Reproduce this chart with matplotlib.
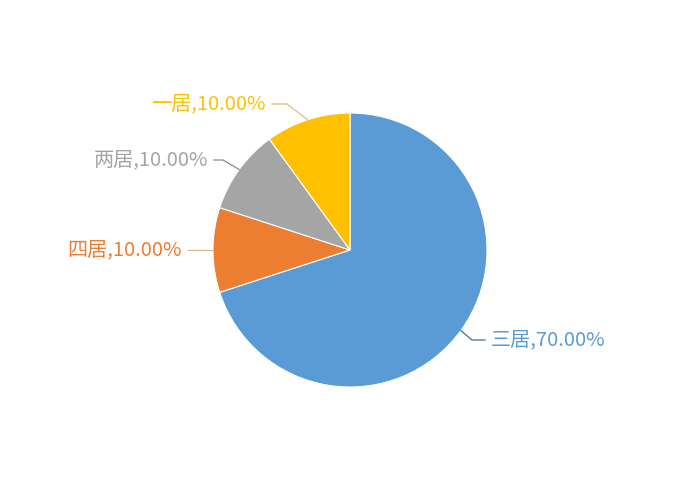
import numpy as np
import matplotlib
matplotlib.use('Agg')
import matplotlib.pyplot as plt

plt.rcParams['font.family'] = ['Noto Sans CJK SC', 'DejaVu Sans']

# data
labels = ['三居', '四居', '两居', '一居']
shares = [70.0, 10.0, 10.0, 10.0]
colors = ['#5B9BD5', '#ED7D31', '#A5A5A5', '#FFC000']
line_colors = ['#4a6f94', '#d9b48f', '#8c8c8c', '#d8c27a']

# leader line layout (pixels, y down): elbow, end of horizontal part
elbows = [(472, 340), (200, 250), (223, 160), (287, 104)]
ends = [(485, 340), (188, 250), (214, 160), (272, 104)]

W, H = 700, 500
fig = plt.figure(figsize=(7, 5), dpi=100)
ax = fig.add_axes([0, 0, 1, 1])

cx, cy, r = 350, 250, 137
wedges, _ = ax.pie(shares, colors=colors, startangle=90, counterclock=False,
                   center=(cx, cy), radius=r, frame=True,
                   wedgeprops=dict(edgecolor='white', linewidth=0.8))
ax.set_xlim(0, W)
ax.set_ylim(0, H)
ax.set_aspect('equal')
ax.axis('off')

for w, lab, val, col, lc, el, en in zip(wedges, labels, shares, colors,
                                        line_colors, elbows, ends):
    mid = np.deg2rad((w.theta1 + w.theta2) / 2)
    sx = cx + r * np.cos(mid)
    sy = cy + r * np.sin(mid)
    ax.plot([sx, el[0], en[0]], [sy, H - el[1], H - en[1]], color=lc, lw=0.9)
    txt = '%s,%.2f%%' % (lab, val)
    if en[0] > cx:
        ax.text(en[0] + 6, H - en[1], txt, color=col, fontsize=14.5,
                ha='left', va='center')
    else:
        ax.text(en[0] - 6, H - en[1], txt, color=col, fontsize=14.5,
                ha='right', va='center')

fig.savefig('out.png', dpi=100)
